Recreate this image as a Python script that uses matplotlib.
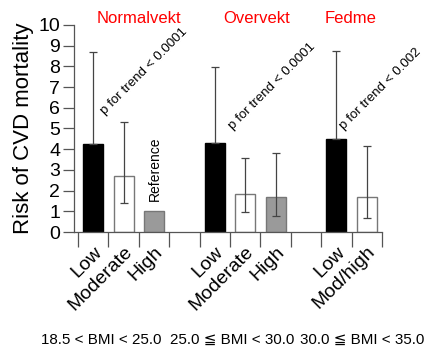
import matplotlib
matplotlib.use("Agg")
import matplotlib.pyplot as plt
import numpy as np

plt.rcParams['font.family'] = ['Liberation Sans', 'DejaVu Sans']

# data
positions = [0, 1, 2, 4, 5, 6, 8, 9]
categories = ["Low", "Moderate", "High", "Low", "Moderate", "High", "Low", "Mod/high"]
values = [4.24, 2.72, 1.0, 4.31, 1.82, 1.71, 4.48, 1.68]
err_upper = [8.68, 5.30, 1.0, 7.99, 3.56, 3.80, 8.74, 4.17]
err_lower = [4.24, 1.39, 1.0, 4.31, 0.95, 0.77, 4.48, 0.66]
bar_colors = ["black", "white", "#9a9a9a", "black", "white", "#9a9a9a", "black", "white"]
group_titles = ["Normalvekt", "Overvekt", "Fedme"]
group_ranges = ["18.5 < BMI < 25.0", "25.0 \u2266 BMI < 30.0", "30.0 \u2266 BMI < 35.0"]
trend_texts = ["p for trend < 0.0001", "p for trend < 0.0001", "p for trend < 0.002"]

fig = plt.figure(figsize=(4.24, 3.47), dpi=100)
ax = fig.add_axes([0.1745, 0.3314, 0.901 - 0.1745, 0.928 - 0.3314])

vals = np.array(values)
up = np.array(err_upper) - vals
lo = vals - np.array(err_lower)
edge = ["black", "#777777", "#777777", "black", "#777777", "#777777", "black", "#777777"]
ax.bar(positions, vals, width=0.66, color=bar_colors, edgecolor=edge, linewidth=1.0, zorder=2)
has_err = [i for i in range(len(vals)) if up[i] > 0]
ax.errorbar([positions[i] for i in has_err], [vals[i] for i in has_err],
            yerr=[[lo[i] for i in has_err], [up[i] for i in has_err]],
            fmt='none', ecolor='#444444', elinewidth=0.9, capsize=3, capthick=0.9, zorder=3)

ax.set_xlim(-0.63, 9.5)
ax.set_ylim(0, 10)
ax.set_yticks(range(0, 11))
ax.tick_params(axis='y', direction='out', length=8, width=0.9, color='#555555', labelsize=14, pad=2)
ax.set_xticks(np.arange(-0.5, 10, 1.0), minor=True)
ax.set_xticks(positions)
ax.set_xticklabels(categories, rotation=45, ha='right', rotation_mode='anchor', fontsize=14)
ax.tick_params(axis='x', which='major', length=0, pad=8)
ax.tick_params(axis='x', which='minor', direction='out', length=11, width=0.9, color='#555555')
for s in ['top', 'right']:
    ax.spines[s].set_visible(False)
for s in ['left', 'bottom']:
    ax.spines[s].set_color('#555555')
    ax.spines[s].set_linewidth(0.9)
ax.set_ylabel("Risk of CVD mortality", fontsize=16, labelpad=3)

title_x = [1.51, 5.36, 8.45]
for x, t in zip(title_x, group_titles):
    ax.text(x, 10.29, t, color='red', fontsize=12, ha='center', va='center', clip_on=False)

range_x = [0.26, 4.57, 8.84]
for x, t in zip(range_x, group_ranges):
    ax.text(x, -5.2, t, fontsize=10.9, ha='center', va='center', clip_on=False)

trend_pos = [(0.45, 5.55), (4.65, 4.85), (8.33, 4.85)]
for (x, y), t in zip(trend_pos, trend_texts):
    ax.text(x, y, t, rotation=45, fontsize=9.6, ha='left', va='bottom', rotation_mode='anchor')

ax.text(2.03, 3.04, "Reference", rotation=90, fontsize=10, ha='center', va='center')

fig.savefig("out.png", dpi=100)
